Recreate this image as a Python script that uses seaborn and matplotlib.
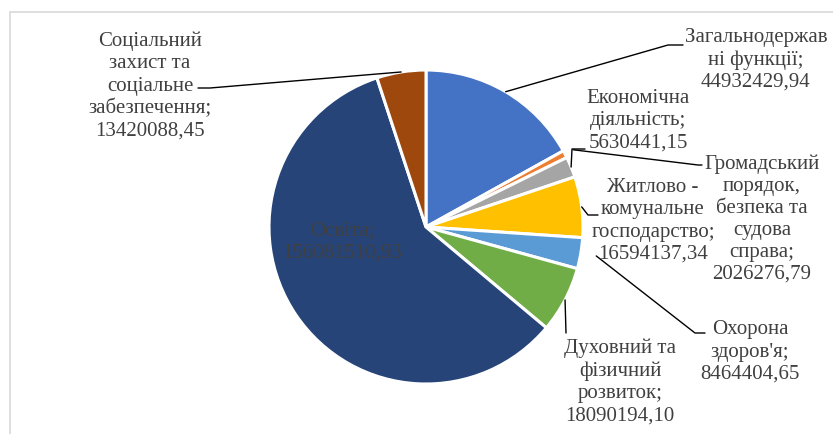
import matplotlib
matplotlib.use("Agg")
import matplotlib.pyplot as plt
import matplotlib.patches as mpatches
import seaborn as sns
import numpy as np

# data (clockwise from 12 o'clock)
categories = ["Загальнодержав\nні функції", "Громадський\nпорядок,\nбезпека та\nсудова\nсправа",
              "Економічна\nдіяльність", "Житлово -\nкомунальне\nгосподарство",
              "Охорона\nздоров'я", "Духовний та\nфізичний\nрозвиток", "Освіта",
              "Соціальний\nзахист та\nсоціальне\nзабезпечення"]
values = [44932429.94, 2026276.79, 5630441.15, 16594137.34,
          8464404.65, 18090194.10, 156081510.93, 13420088.45]
colors = ["#4472C4", "#ED7D31", "#A5A5A5", "#FFC000",
          "#5B9BD5", "#70AD47", "#264478", "#9E480E"]

sns.set_theme(style="white")
plt.rcParams["font.family"] = ["Liberation Serif", "DejaVu Serif"]

W, H = 833, 434
cx, cy, R = 426, 227, 157   # pixel layout, y from top

fig = plt.figure(figsize=(W / 100, H / 100), dpi=100)
ax = fig.add_axes([0, 0, 1, 1])
wedges, _ = ax.pie(values, colors=colors, startangle=90, counterclock=False,
                   center=(cx, H - cy), radius=R,
                   wedgeprops=dict(edgecolor="white", linewidth=2.2))
ax.set_xlim(0, W)
ax.set_ylim(0, H)
ax.set_aspect("equal")
ax.axis("off")

# chart border (light gray), runs off the right/bottom
fig.patches.append(mpatches.Rectangle((10, -20), W + 40, H - 12 + 20, transform=None,
                                      fill=False, edgecolor="#d9d9d9", linewidth=1.2))

# label layout: text centre, leader elbow points (pixels, y from top)
text_pos = [(756, 60), (762, 219), (638, 121), (653, 221),
            (750, 352), (620, 382), (342, 242), (150, 86)]
elbows = [[(668, 45), (683, 45)],
          [(698, 165), (702, 165)],
          [(572, 149), (585, 149)],
          [(588, 215), (598, 215)],
          [(695, 333), (705, 333)],
          [(566, 333)],
          None,
          [(210, 88), (198, 88)]]
anchor_r = [1.0, 1.06, 1.0, 1.0, 1.1, 1.0, 1.0, 1.0]

txt_color = "#404040"
for i, w in enumerate(wedges):
    value_txt = f"{values[i]:.2f}".replace(".", ",")
    label = categories[i] + ";\n" + value_txt
    tx, ty = text_pos[i]
    ax.text(tx, H - ty, label, ha="center", va="center", fontsize=15,
            color=txt_color, linespacing=1.22)
    if elbows[i] is None:
        continue
    th = np.deg2rad((w.theta1 + w.theta2) / 2)
    ax_x = cx + R * anchor_r[i] * np.cos(th)
    ax_y = (H - cy) + R * anchor_r[i] * np.sin(th)
    xs = [ax_x] + [p[0] for p in elbows[i]]
    ys = [ax_y] + [H - p[1] for p in elbows[i]]
    ax.plot(xs, ys, color="black", linewidth=1)

fig.savefig("out.png", dpi=100)
